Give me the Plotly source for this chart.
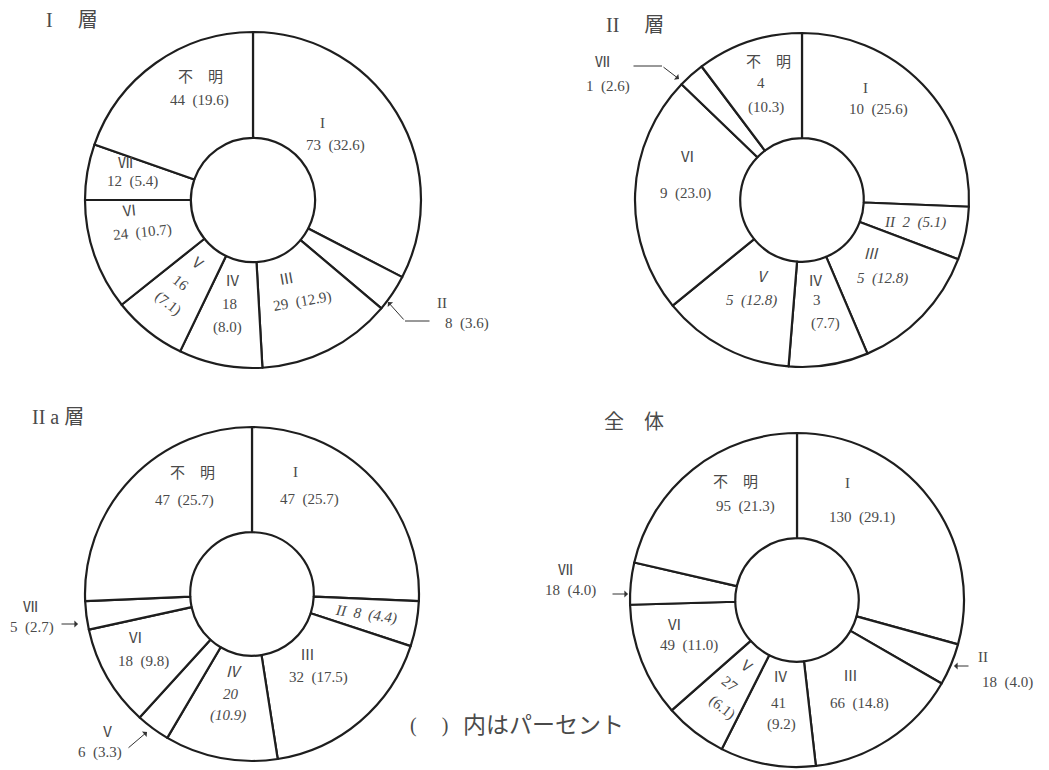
import plotly.graph_objects as go

W, H = 1049, 770

# ---------------- data ----------------
categories = ["Ⅰ", "Ⅱ", "Ⅲ", "Ⅳ", "Ⅴ", "Ⅵ", "Ⅶ", "不明"]
label_names = ["I", "II", "Ⅲ", "Ⅳ", "Ⅴ", "Ⅵ", "Ⅶ", "不　明"]

titles = ["I　 層", "II　 層", "II a 層", "全　体"]

counts_1 = [73, 8, 29, 18, 16, 24, 12, 44]
pct_1 = ["32.6", "3.6", "12.9", "8.0", "7.1", "10.7", "5.4", "19.6"]

counts_2 = [10, 2, 5, 3, 5, 9, 1, 4]
pct_2 = ["25.6", "5.1", "12.8", "7.7", "12.8", "23.0", "2.6", "10.3"]

counts_2a = [47, 8, 32, 20, 6, 18, 5, 47]
pct_2a = ["25.7", "4.4", "17.5", "10.9", "3.3", "9.8", "2.7", "25.7"]

counts_all = [130, 18, 66, 41, 27, 49, 18, 95]
pct_all = ["29.1", "4.0", "14.8", "9.2", "6.1", "11.0", "4.0", "21.3"]

note_paren = "(　 )"
note_text = "内はパーセント"

# ---------------- layout / style ----------------
LINE = "#1e1e1e"
TXT = "#4a4a4a"
FONT = "Liberation Serif, 'Noto Sans CJK JP', serif"
HOLE = 0.37

# pie placement: (center x, center y, radius) in pixels
pies = [
    dict(counts=counts_1, pct=pct_1, cx=253, cy=200, r=168),
    dict(counts=counts_2, pct=pct_2, cx=802, cy=200, r=167),
    dict(counts=counts_2a, pct=pct_2a, cx=252, cy=594, r=167),
    dict(counts=counts_all, pct=pct_all, cx=797, cy=600, r=167),
]

title_pos = [(44, 20), (604, 25), (30, 417), (602, 422)]

# label placement per slice: kind and line positions (pixels)
# kinds: "2" -> name / count (pct);  "3" -> name / count / (pct);  "1" -> name count (pct)
label_layout = [
    {  # I層
        0: ("2", [(322, 123), (335, 145)], 0, False),
        1: ("2", [(442, 303), (467, 323)], 0, False),
        2: ("2", [(286, 279), (302, 301)], -10, False),
        3: ("3", [(232, 281), (229, 304), (227, 327)], 0, False),
        4: ("3", [(197, 263), (181, 283), (168, 303)], 38, False),
        5: ("2", [(129, 211), (142, 232)], -6, False),
        6: ("2", [(125, 163), (132, 182)], 0, False),
        7: ("2", [(200, 77), (199, 100)], 0, False),
    },
    {  # II層
        0: ("2", [(865, 88), (878, 110)], 0, False),
        1: ("1", [(915, 222)], 0, True),
        2: ("2", [(871, 254), (882, 278)], 0, True),
        3: ("3", [(815, 281), (817, 300), (825, 324)], 0, False),
        4: ("2", [(761, 277), (751, 300)], 0, True),
        5: ("2", [(687, 157), (685, 194)], 0, False),
        6: ("2", [(602, 62), (608, 87)], 0, False),
        7: ("3", [(768, 62), (761, 83), (766, 107)], 0, False),
    },
    {  # IIa層
        0: ("2", [(295, 472), (309, 499)], 0, False),
        1: ("1", [(366, 614)], 8, True),
        2: ("2", [(307, 655), (318, 677)], 0, False),
        3: ("3", [(233, 672), (231, 694), (228, 715)], 0, True),
        4: ("2", [(107, 732), (100, 752)], 0, False),
        5: ("2", [(135, 638), (143, 661)], 0, False),
        6: ("2", [(30, 607), (32, 627)], 0, False),
        7: ("2", [(192, 473), (184, 500)], 0, False),
    },
    {  # 全体
        0: ("2", [(847, 483), (862, 517)], 0, False),
        1: ("2", [(983, 657), (1007, 682)], 0, False),
        2: ("2", [(850, 676), (859, 703)], 0, False),
        3: ("3", [(780, 677), (778, 703), (781, 724)], 0, False),
        4: ("3", [(746, 666), (730, 684), (722, 707)], 38, False),
        5: ("2", [(674, 625), (689, 645)], 0, False),
        6: ("2", [(565, 570), (570, 590)], 0, False),
        7: ("2", [(735, 482), (745, 506)], 0, False),
    },
]

# leader arrows (tail -> tip) in pixels, head flag
leaders = [
    [((431, 321), (405, 321), False), ((405, 321), (388, 302), True)],
    [((632, 66), (662, 66), False), ((662, 66), (679, 79), True)],
    [((60, 624), (78, 624), True), ((127, 749), (147, 732), True)],
    [((970, 666), (954, 666), True), ((611, 594), (628, 594), True)],
]


def px(x, y):
    return x / W, 1 - y / H


def txt(x, y, s, size=15, angle=0, italic=False, xanchor="center"):
    fx, fy = px(x, y)
    if italic:
        s = "<i>" + s + "</i>"
    return dict(x=fx, y=fy, xref="paper", yref="paper", text=s, showarrow=False,
                xanchor=xanchor, yanchor="middle", textangle=angle,
                font=dict(family=FONT, size=size, color=TXT))


fig = go.Figure()
annotations = []

for i, p in enumerate(pies):
    x0, x1 = (p["cx"] - p["r"]) / W, (p["cx"] + p["r"]) / W
    y0, y1 = 1 - (p["cy"] + p["r"]) / H, 1 - (p["cy"] - p["r"]) / H
    fig.add_trace(go.Pie(
        labels=categories, values=p["counts"], sort=False, direction="clockwise",
        rotation=0, hole=HOLE, textinfo="none", hoverinfo="label+value",
        marker=dict(colors=["white"] * len(categories), line=dict(color=LINE, width=2.2)),
        domain=dict(x=[x0, x1], y=[y0, y1]), showlegend=False,
    ))

    for k, (kind, pos, ang, ital) in label_layout[i].items():
        name = label_names[k]
        c = p["counts"][k]
        pc = p["pct"][k]
        if kind == "2":
            lines = [name, f"{c}  ({pc})"]
        elif kind == "3":
            lines = [name, f"{c}", f"({pc})"]
        else:
            lines = [f"{name}  {c}  ({pc})"]
        for ln, (lx, ly) in zip(lines, pos):
            annotations.append(txt(lx, ly, ln, angle=ang, italic=ital))

    for tail, tip, head in leaders[i]:
        fx, fy = px(*tip)
        annotations.append(dict(
            x=fx, y=fy, xref="paper", yref="paper", text="", showarrow=True,
            ax=tail[0] - tip[0], ay=tail[1] - tip[1], axref="pixel", ayref="pixel",
            arrowhead=1 if head else 0, arrowsize=1.2, arrowwidth=1, arrowcolor="#333",
            standoff=0, startstandoff=0,
        ))

    tx, ty = title_pos[i]
    annotations.append(txt(tx, ty, titles[i], size=20, xanchor="left"))

annotations.append(txt(429, 725, note_paren, size=20))
annotations.append(txt(461, 725, note_text, size=23, xanchor="left"))

fig.update_layout(
    width=W, height=H, margin=dict(l=0, r=0, t=0, b=0),
    paper_bgcolor="white", plot_bgcolor="white",
    annotations=annotations, showlegend=False,
)

fig.write_html("out.html", config={"displayModeBar": False},
               post_script="document.body.style.margin='0px';")
